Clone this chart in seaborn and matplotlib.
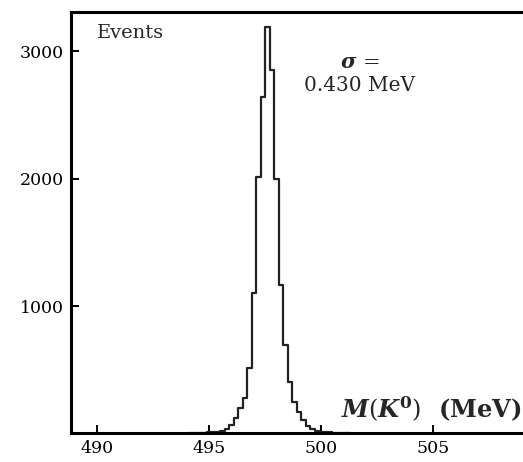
import numpy as np
import pandas as pd
import matplotlib
matplotlib.use('Agg')
import matplotlib.pyplot as plt
import seaborn as sns

# K0 mass histogram, 0.2 MeV bins
bin_centers = [494.2, 494.4, 494.6, 494.8, 495.0, 495.2, 495.4, 495.6, 495.8, 496.0,
               496.2, 496.4, 496.6, 496.8, 497.0, 497.2, 497.4, 497.6, 497.8, 498.0,
               498.2, 498.4, 498.6, 498.8, 499.0, 499.2, 499.4, 499.6, 499.8, 500.0,
               500.2, 500.4, 500.6, 500.8, 501.0, 501.2]
counts = [2, 3, 4, 5, 7, 10, 14, 20, 35, 67,
          122, 196, 279, 514, 1104, 2015, 2643, 3190, 2855, 2000,
          1166, 695, 405, 247, 169, 106, 59, 35, 20, 14,
          10, 7, 5, 4, 3, 2]
bin_width = 0.2

x_ticks = [490, 495, 500, 505]
y_ticks = [1000, 2000, 3000]

df = pd.DataFrame({'mass': bin_centers, 'n': counts})
edges = [round(c - bin_width / 2, 2) for c in bin_centers] + [round(bin_centers[-1] + bin_width / 2, 2)]

sns.set_style('ticks')
plt.rcParams['font.family'] = ['DejaVu Serif']
plt.rcParams['mathtext.fontset'] = 'dejavuserif'

fig = plt.figure(figsize=(5.23, 4.62), dpi=100)
ax = fig.add_axes([0.136, 0.062, 0.864, 0.912])

sns.histplot(data=df, x='mass', weights='n', bins=edges, element='step',
             fill=False, color='#222222', linewidth=1.6, ax=ax)

ax.set_xlim(488.84, 509.0)
ax.set_ylim(0, 3310)
ax.set_xticks(x_ticks)
ax.set_yticks(y_ticks)
ax.set_xlabel('')
ax.set_ylabel('')
ax.tick_params(direction='in', length=6, width=1.4, labelsize=12.5, colors='black')
ax.tick_params(axis='x', pad=5)
ax.tick_params(axis='y', pad=5)
for side in ['left', 'bottom', 'top']:
    ax.spines[side].set_linewidth(2.2)
    ax.spines[side].set_color('black')
ax.spines['right'].set_visible(False)

ax.text(0.057, 0.972, 'Events', transform=ax.transAxes, fontsize=14,
        ha='left', va='top')
ax.text(0.638, 0.88, r'$\mathbfit{\sigma}$ =', transform=ax.transAxes,
        fontsize=15, ha='center', va='center')
ax.text(0.638, 0.825, '0.430 MeV', transform=ax.transAxes, fontsize=14.5,
        ha='center', va='center')
ax.text(0.998, 0.058, r'$\mathbfit{M}(\mathbfit{K}^{\mathbf{0}})$  (MeV)',
        transform=ax.transAxes, fontsize=17.5, fontweight='bold',
        ha='right', va='center')

fig.savefig('out.png', dpi=100)
